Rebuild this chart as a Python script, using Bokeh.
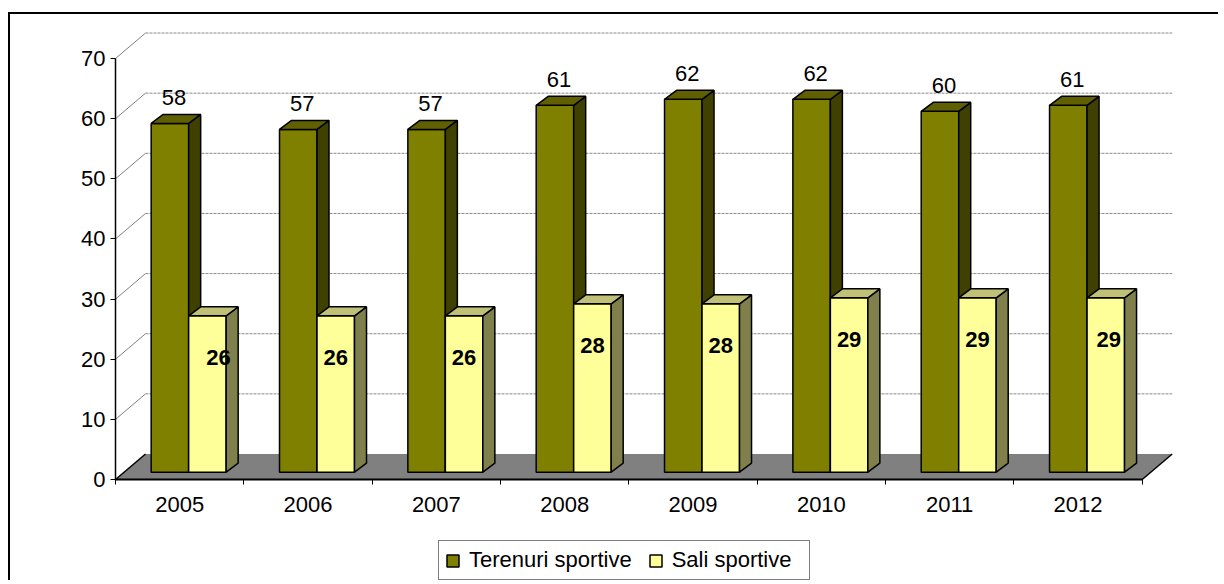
from bokeh.plotting import figure
from bokeh.models import Range1d, FixedTicker, Legend, LegendItem, ColumnDataSource
from bokeh.core.properties import value
from bokeh.embed import file_html
from bokeh.resources import INLINE

# ---------------- data ----------------
years = ["2005", "2006", "2007", "2008", "2009", "2010", "2011", "2012"]
terenuri = [58, 57, 57, 61, 62, 62, 60, 61]
sali = [26, 26, 26, 28, 28, 29, 29, 29]
y_ticks = [0, 10, 20, 30, 40, 50, 60, 70]
series_names = ["Terenuri sportive", "Sali sportive"]

# ---------------- geometry / style ----------------
FONT = value("Liberation Sans")
OX, OY = 10, 14                     # canvas origin on the page
W, H = 1210, 568
AX_X, AX_Y = 115, 479               # page position of the origin of the axes
CAT_PX, VAL_PX = 128.34, 6.014
n = len(years)

x_start = -(AX_X - OX) / CAT_PX
x_end = (OX + W - AX_X) / CAT_PX
y_start = -(OY + H - AX_Y) / VAL_PX
y_end = (AX_Y - OY) / VAL_PX

wall_dx, wall_dy = 30 / CAT_PX, 25.5 / VAL_PX
plane_dx, plane_dy = 9 / CAT_PX, 7.3 / VAL_PX
bar_w = 37.5 / CAT_PX
dep_dx, dep_dy = 12 / CAT_PX, 9 / VAL_PX
sali_label_nudge = [11, 0, 0, 0, 0, 0, 0, 3]

p = figure(width=W, height=H, output_backend="svg", toolbar_location=None,
           x_range=Range1d(x_start, x_end), y_range=Range1d(y_start, y_end),
           min_border=0)
p.outline_line_color = None
p.grid.visible = False
p.background_fill_color = "white"
p.border_fill_color = "white"
p.styles = {"margin-left": "8px", "margin-top": "12px",
            "border-left": "2px solid black", "border-top": "2px solid black"}

# back wall gridlines + diagonals
gv = y_ticks[1:]
p.segment(x0=[wall_dx] * len(gv), y0=[v + wall_dy for v in gv],
          x1=[n + wall_dx] * len(gv), y1=[v + wall_dy for v in gv],
          line_color="#8a8a8a", line_width=1, line_dash="3 1")
p.segment(x0=[0] * len(gv), y0=gv, x1=[wall_dx] * len(gv), y1=[v + wall_dy for v in gv],
          line_color="#808080", line_width=1)

# floor
p.patch(x=[0, n, n + wall_dx, wall_dx], y=[0, 0, wall_dy, wall_dy],
        fill_color="#808080", line_color=None)
p.segment(x0=[0, n], y0=[0, 0], x1=[wall_dx, n + wall_dx], y1=[wall_dy, wall_dy],
          line_color="black", line_width=1.5)


def faces(vals, left_shift):
    fr_x, fr_y, sd_x, sd_y, tp_x, tp_y = [], [], [], [], [], []
    b = plane_dy
    for i, v in enumerate(vals):
        l = i + 0.5 + plane_dx + left_shift
        r = l + bar_w
        t = b + v
        fr_x.append([l, r, r, l]); fr_y.append([b, b, t, t])
        sd_x.append([r, r + dep_dx, r + dep_dx, r]); sd_y.append([b, b + dep_dy, t + dep_dy, t])
        tp_x.append([l, r, r + dep_dx, l + dep_dx]); tp_y.append([t, t, t + dep_dy, t + dep_dy])
    return (fr_x, fr_y), (sd_x, sd_y), (tp_x, tp_y)


renderers = []
for vals, shift, cols in [(terenuri, -bar_w, ("#808000", "#404000", "#606000")),
                          (sali, 0.0, ("#FFFF99", "#80804D", "#C0C077"))]:
    fr, sd, tp = faces(vals, shift)
    rf = p.patches(xs=fr[0], ys=fr[1], fill_color=cols[0], line_color="black", line_width=1.5)
    p.patches(xs=sd[0], ys=sd[1], fill_color=cols[1], line_color="black", line_width=1.5)
    p.patches(xs=tp[0], ys=tp[1], fill_color=cols[2], line_color="black", line_width=1.5)
    renderers.append(rf)

# data labels
src_t = ColumnDataSource(dict(x=[i + 0.5 + plane_dx - bar_w / 2 for i in range(n)],
                              y=[plane_dy + v for v in terenuri],
                              t=[str(v) for v in terenuri]))
p.text(x="x", y="y", text="t", source=src_t, text_font=FONT, text_font_size="22px",
       text_align="center", text_baseline="middle", x_offset=4, y_offset=-26, text_color="black")
src_s = ColumnDataSource(dict(x=[i + 0.5 + plane_dx + bar_w / 2 for i in range(n)],
                              y=[plane_dy + v for v in sali],
                              t=[str(v) for v in sali],
                              dx=sali_label_nudge))
p.text(x="x", y="y", text="t", source=src_s, text_font=FONT, text_font_size="22px",
       text_font_style="bold", text_align="center", text_baseline="middle",
       x_offset="dx", y_offset=42, text_color="black")

# axes (pinned to the 3-D origin)
xa = p.xaxis[0]
xa.fixed_location = 0
xa.ticker = FixedTicker(ticks=[i + 0.5 for i in range(n)], minor_ticks=list(range(n + 1)))
xa.major_label_overrides = {i + 0.5: y for i, y in enumerate(years)}
xa.bounds = (0, n)
xa.major_tick_out = 0
xa.major_tick_in = 0
xa.minor_tick_out = 5
xa.minor_tick_in = 0
xa.minor_tick_line_color = "black"
xa.axis_line_width = 2
xa.axis_line_color = "black"
xa.major_label_standoff = 12
xa.major_label_text_font = "Liberation Sans"
xa.major_label_text_font_size = "22px"
xa.major_label_text_color = "black"

ya = p.yaxis[0]
ya.fixed_location = 0
ya.ticker = FixedTicker(ticks=y_ticks, minor_ticks=[])
ya.bounds = (0, 70)
ya.major_tick_out = 5
ya.major_tick_in = 0
ya.minor_tick_out = 0
ya.minor_tick_in = 0
ya.major_tick_line_color = "black"
ya.axis_line_width = 1.5
ya.axis_line_color = "black"
ya.major_label_standoff = 5
ya.major_label_text_font = "Liberation Sans"
ya.major_label_text_font_size = "22px"
ya.major_label_text_color = "black"

# legend
legend = Legend(items=[LegendItem(label=series_names[0], renderers=[renderers[0]]),
                       LegendItem(label=series_names[1], renderers=[renderers[1]])],
                orientation="horizontal", location=(428, 2),
                glyph_width=15, glyph_height=15, label_standoff=9, spacing=16, padding=6,
                label_text_font="Liberation Sans", label_text_font_size="22px",
                label_text_color="black", border_line_color="black", border_line_width=1.5,
                background_fill_color="white", background_fill_alpha=1,
                label_height=20, label_width=131, margin=0)
p.add_layout(legend)

open("out.html", "w").write(file_html(p, INLINE))
